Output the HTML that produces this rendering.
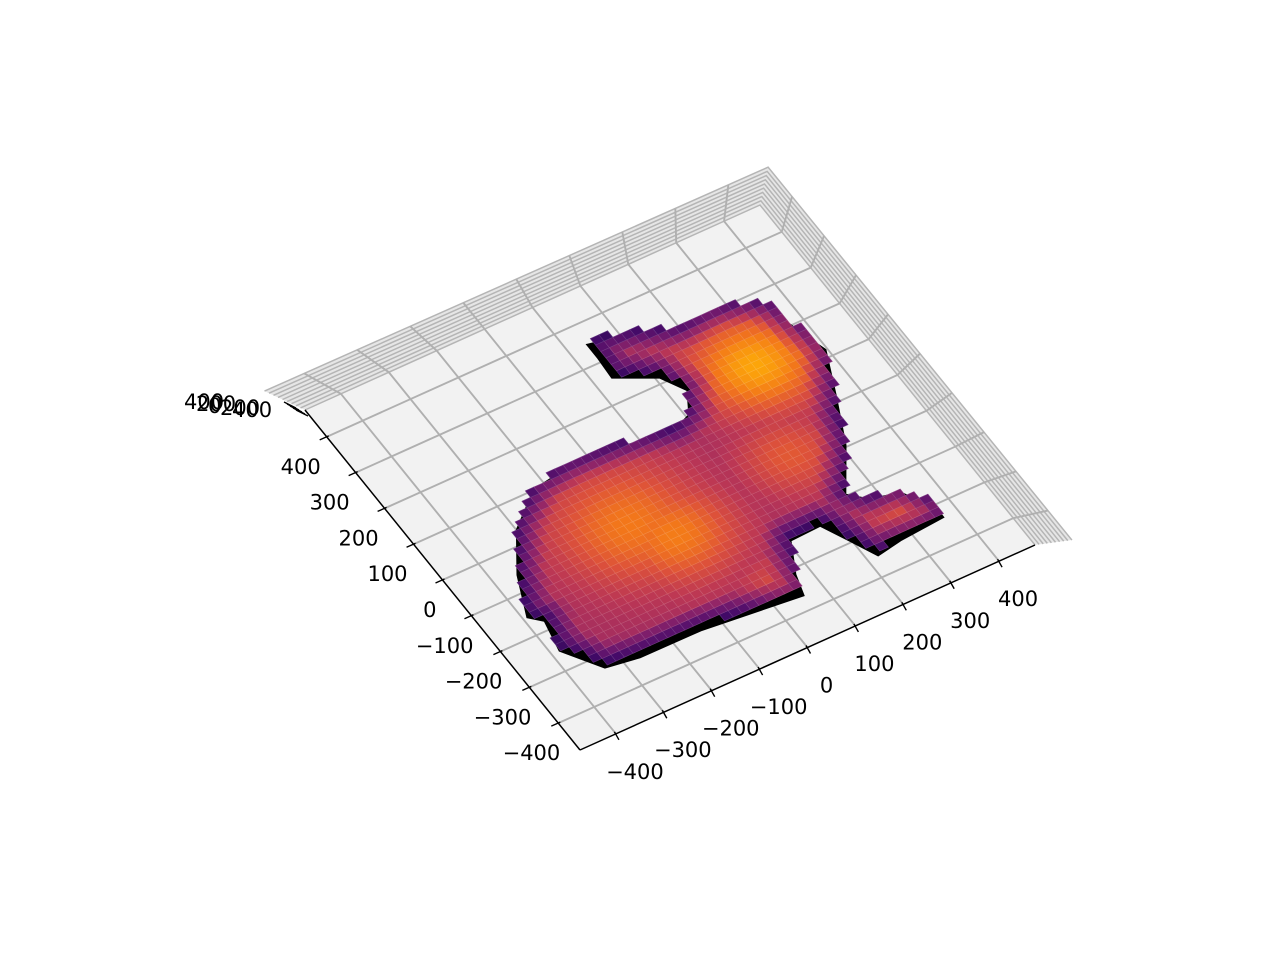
<!DOCTYPE html>
<html><head><meta charset="utf-8"><style>
html,body{margin:0;padding:0;background:#fff}
svg{display:block}
text{font-family:"DejaVu Sans","Liberation Sans",sans-serif;font-size:21px;fill:#000}
</style></head><body>
<svg id="chart" width="1280" height="960" viewBox="0 0 1280 960" xmlns="http://www.w3.org/2000/svg">
<g id="panes"></g>
<g id="grid"></g>
<g id="surface"></g>
<g id="axes"></g>
</svg>
<script>
// ---- data ----
const xTicks = [-400,-300,-200,-100,0,100,200,300,400];
const yTicks = [-400,-300,-200,-100,0,100,200,300,400];
const zTickLabels = ["−400","−200","0","200","400"];
const outlineX = [45,122,200,269,332,367,384,401,361,314,252,285,339,374,374,281,229,204,177,112,77,64,-136,-262,-328,-376,-362,-384,-347,-292,-216,-133,-15,65,114,142,115,42,45];
const outlineY = [357,339,297,306,290,261,186,128,27,-85,-187,-221,-234,-297,-322,-330,-340,-284,-226,-229,-304,-353,-330,-329,-318,-242,-167,-144,-49,44,110,124,114,99,120,173,225,269,323];
const peakX = [270,-120,-64,211,321,35];
const peakY = [152,-60,-123,-65,-299,-322];
const peakZ = [0.80,0.70,0.71,0.62,0.60,0.58];
const peakSpread = [85,105,85,70,50,55];
const baseZ = 0.44;

// ---- projection ----
const XMIN=-475,XMAX=475,YMIN=-475,YMAX=475;
const B=[580,750], EX=[455/950,-205/950], EY=[-275/950,-340/950];
function P(x,y){const a=x-XMIN,b=y-YMIN;return [B[0]+a*EX[0]+b*EY[0], B[1]+a*EX[1]+b*EY[1]];}
const NS="http://www.w3.org/2000/svg";
function mk(tag,attrs,parent){const e=document.createElementNS(NS,tag);for(const k in attrs)e.setAttribute(k,attrs[k]);parent.appendChild(e);return e;}
const gP=document.getElementById('panes'),gG=document.getElementById('grid'),gS=document.getElementById('surface'),gA=document.getElementById('axes');

const L=P(XMIN,YMAX),T=P(XMAX,YMAX),R=P(XMAX,YMIN),Bc=P(XMIN,YMIN);
const dL=[-4.5,-2.1],dT=[0.9,-4.2],dR=[4.1,-0.55],NK=9;
function off(p,d,k){return [p[0]+d[0]*k,p[1]+d[1]*k];}
const w=[off(L,dL,NK),off(T,dT,NK),off(R,dR,NK),R,T,L];
const wall=mk('polygon',{points:w.map(p=>p.join(',')).join(' '),fill:'#e6e6e6',stroke:'none'},gP);


const floor=mk('polygon',{points:[L,T,R,Bc].map(p=>p.join(',')).join(' '),fill:'#f2f2f2',stroke:'none'},gP);


for(let k=0;k<=NK;k++){
  const pts=[off(L,dL,k),off(T,dT,k),off(R,dR,k)];
  const pl=mk('polyline',{points:pts.map(p=>p.join(',')).join(' '),fill:'none',stroke:'#b5b5b5','stroke-width':1.5},gP);
  
  
}
xTicks.forEach(x=>{
  const a=P(x,YMIN),b=P(x,YMAX),t=(x-XMIN)/(XMAX-XMIN);
  const d=[dL[0]+(dT[0]-dL[0])*t,dL[1]+(dT[1]-dL[1])*t];
  const c=off(b,d,NK);
  const l=mk('polyline',{points:[a,b,c].map(p=>p.join(',')).join(' '),fill:'none',stroke:'#b0b0b0','stroke-width':1.9},gG);
  
  
});
yTicks.forEach(y=>{
  const a=P(XMIN,y),b=P(XMAX,y),t=(YMAX-y)/(YMAX-YMIN);
  const d=[dT[0]+(dR[0]-dT[0])*t,dT[1]+(dR[1]-dT[1])*t];
  const c=off(b,d,NK);
  const l=mk('polyline',{points:[a,b,c].map(p=>p.join(',')).join(' '),fill:'none',stroke:'#b0b0b0','stroke-width':1.9},gG);
  
  
});

// ---- surface ----
const INF=[[0,'#000004'],[0.1,'#160b39'],[0.2,'#420a68'],[0.3,'#6a176e'],[0.4,'#932667'],[0.5,'#bc3754'],[0.6,'#dd513a'],[0.7,'#f37819'],[0.8,'#fca50a'],[0.9,'#f6d746'],[1,'#fcffa4']];
function hx(h){return [1,3,5].map(i=>parseInt(h.substr(i,2),16));}
function cmap(v){v=Math.max(0,Math.min(1,v));for(let i=1;i<INF.length;i++){if(v<=INF[i][0]){const t=(v-INF[i-1][0])/(INF[i][0]-INF[i-1][0]);const a=hx(INF[i-1][1]),b=hx(INF[i][1]);return 'rgb('+a.map((c,j)=>Math.round(c+(b[j]-c)*t)).join(',')+')';}}return INF[INF.length-1][1];}
function inside(x,y){let c=false;for(let i=0,j=outlineX.length-1;i<outlineX.length;j=i++){const xi=outlineX[i],yi=outlineY[i],xj=outlineX[j],yj=outlineY[j];if(((yi>y)!=(yj>y))&&(x<(xj-xi)*(y-yi)/(yj-yi)+xi))c=!c;}return c;}
function edgeDist(x,y){let m=1e9;for(let i=0,j=outlineX.length-1;i<outlineX.length;j=i++){const ax=outlineX[j],ay=outlineY[j],bx=outlineX[i],by=outlineY[i];const dx=bx-ax,dy=by-ay;let t=((x-ax)*dx+(y-ay)*dy)/(dx*dx+dy*dy);t=Math.max(0,Math.min(1,t));const ex=ax+t*dx-x,ey=ay+t*dy-y;m=Math.min(m,Math.hypot(ex,ey));}return m;}
const rimPts=outlineX.map((x,i)=>{const p=P(x,outlineY[i]);return (p[0])+','+(p[1]+5);}).join(' ');
const rim=mk('polygon',{points:rimPts,fill:'#000',stroke:'#000','stroke-width':3,'stroke-linejoin':'miter'},gS);


const STEP=18;
for(let x=-400;x<=420;x+=STEP){for(let y=-380;y<=380;y+=STEP){
  const cx=x+STEP/2,cy=y+STEP/2;
  if(!inside(cx,cy))continue;
  let z=baseZ;
  for(let k=0;k<peakX.length;k++){const g=Math.exp(-((cx-peakX[k])**2+(cy-peakY[k])**2)/(2*peakSpread[k]**2));z=Math.max(z,peakZ[k]*g+baseZ*(1-g));}
  const d=edgeDist(cx,cy);z-=0.26*Math.max(0,1-d/50);
  const pts=[P(x,y),P(x+STEP,y),P(x+STEP,y+STEP),P(x,y+STEP)];
  const c=cmap(z);
  const q=mk('polygon',{points:pts.map(p=>p[0].toFixed(1)+','+p[1].toFixed(1)).join(' '),fill:c,stroke:c,'stroke-width':0.6},gS);
  
  
  const q2=mk('polygon',{points:pts.map(p=>p[0].toFixed(1)+','+p[1].toFixed(1)).join(' '),fill:'none',stroke:'rgba(255,255,255,0.18)','stroke-width':0.6},gS);
  
  
}}

// ---- axes ----
const xl=mk('line',{x1:Bc[0],y1:Bc[1],x2:R[0],y2:R[1],stroke:'#000','stroke-width':1.5},gA);


const yl=mk('line',{x1:Bc[0],y1:Bc[1],x2:L[0],y2:L[1],stroke:'#000','stroke-width':1.5},gA);


xTicks.forEach(x=>{
  const p=P(x,YMIN);
  const t=mk('line',{x1:p[0]-1.5,y1:p[1]-2,x2:p[0]+3,y2:p[1]+6,stroke:'#000','stroke-width':1.4},gA);
  
  
  const s=mk('text',{x:p[0]+19,y:p[1]+45,'text-anchor':'middle'},gA);
  s.textContent=x<0?'−'+Math.abs(x):String(x);
  
  
});
yTicks.forEach(y=>{
  const p=P(XMIN,y);
  const t=mk('line',{x1:p[0]+2,y1:p[1]-1,x2:p[0]-7,y2:p[1]+3,stroke:'#000','stroke-width':1.4},gA);
  
  
  const s=mk('text',{x:p[0]-6+(y<0?8:0),y:p[1]+37,'text-anchor':'end'},gA);
  s.textContent=y<0?'−'+Math.abs(y):String(y);
  
  
});
zTickLabels.forEach((lab,i)=>{
  const s=mk('text',{x:184+i*12,y:409+i*2},gA);
  s.textContent=lab.replace('−','');
  
  
  const t=mk('line',{x1:284+i*3,y1:402+i*2,x2:296+i*3,y2:408+i*2,stroke:'#000','stroke-width':1.3},gA);
  
  
});
</script>
</body></html>
